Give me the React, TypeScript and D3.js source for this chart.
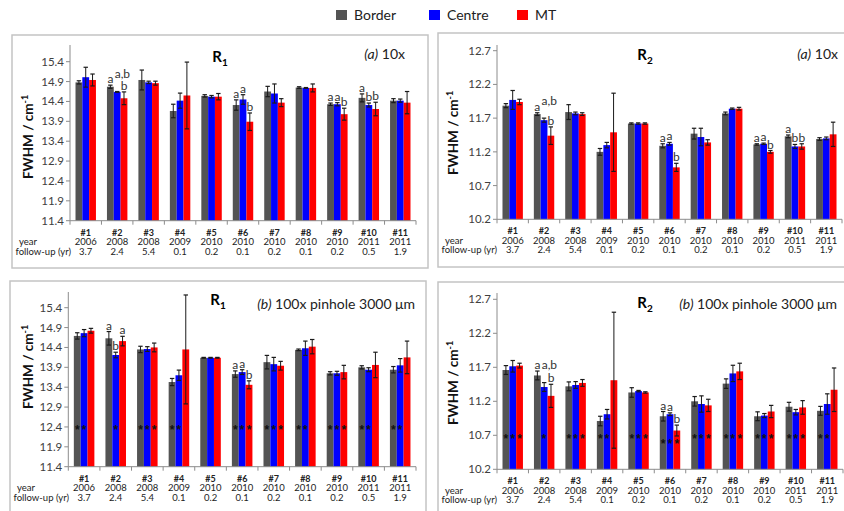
import * as d3 from "d3";

// categories and labels under the x axis
const categories = ["#1", "#2", "#3", "#4", "#5", "#6", "#7", "#8", "#9", "#10", "#11"];
const years = ["2006", "2008", "2008", "2009", "2010", "2010", "2010", "2010", "2010", "2011", "2011"];
const followUp = ["3.7", "2.4", "5.4", "0.1", "0.2", "0.1", "0.2", "0.1", "0.2", "0.5", "1.9"];
const seriesNames = ["Border", "Centre", "MT"];
const seriesColors = ["#545454", "#0000ff", "#ff0000"];

const r1Ticks = [11.4, 11.9, 12.4, 12.9, 13.4, 13.9, 14.4, 14.9, 15.4];
const r2Ticks = [10.2, 10.7, 11.2, 11.7, 12.2, 12.7];

// (a) 10x, R1
const r1aBorder = [14.88, 14.77, 14.94, 14.16, 14.54, 14.31, 14.65, 14.75, 14.33, 14.49, 14.42];
const r1aBorderErr = [0.04, 0.04, 0.25, 0.17, 0.03, 0.13, 0.13, 0.02, 0.03, 0.1, 0.05];
const r1aCentre = [15.01, 14.64, 14.88, 14.42, 14.52, 14.45, 14.6, 14.74, 14.33, 14.31, 14.42];
const r1aCentreErr = [0.25, 0.01, 0.03, 0.19, 0.03, 0.12, 0.24, 0.01, 0.04, 0.05, 0.04];
const r1aMT = [14.94, 14.48, 14.86, 14.55, 14.52, 13.89, 14.37, 14.74, 14.08, 14.21, 14.37];
const r1aMTErr = [0.15, 0.16, 0.05, 0.84, 0.08, 0.22, 0.1, 0.1, 0.15, 0.17, 0.28];

// (a) 10x, R2
const r2aBorder = [11.885, 11.76, 11.79, 11.2, 11.62, 11.29, 11.47, 11.77, 11.31, 11.43, 11.39];
const r2aBorderErr = [0.03, 0.02, 0.11, 0.05, 0.01, 0.03, 0.08, 0.02, 0.01, 0.02, 0.02];
const r2aCentre = [11.97, 11.67, 11.77, 11.3, 11.62, 11.32, 11.42, 11.84, 11.32, 11.28, 11.4];
const r2aCentreErr = [0.14, 0.03, 0.02, 0.04, 0.01, 0.02, 0.13, 0.01, 0.01, 0.03, 0.02];
const r2aMT = [11.94, 11.44, 11.76, 11.49, 11.62, 10.97, 11.34, 11.84, 11.2, 11.28, 11.46];
const r2aMTErr = [0.04, 0.13, 0.02, 0.58, 0.01, 0.06, 0.04, 0.02, 0.02, 0.04, 0.18];

// (b) 100x pinhole, R1
const r1bBorder = [14.69, 14.63, 14.35, 13.53, 14.14, 13.73, 14.03, 14.34, 13.75, 13.9, 13.84];
const r1bBorderErr = [0.08, 0.17, 0.08, 0.09, 0.01, 0.08, 0.17, 0.02, 0.04, 0.04, 0.08];
const r1bCentre = [14.76, 14.21, 14.36, 13.7, 14.14, 13.78, 13.98, 14.38, 13.75, 13.84, 13.95];
const r1bCentreErr = [0.09, 0.07, 0.06, 0.13, 0.01, 0.06, 0.17, 0.18, 0.05, 0.05, 0.17];
const r1bMT = [14.82, 14.56, 14.4, 14.35, 14.14, 13.46, 13.94, 14.42, 13.78, 13.96, 14.15];
const r1bMTErr = [0.06, 0.12, 0.11, 1.37, 0.01, 0.1, 0.11, 0.18, 0.17, 0.32, 0.41];

// (b) 100x pinhole, R2
const r2bBorder = [11.66, 11.58, 11.42, 10.91, 11.33, 10.98, 11.2, 11.46, 10.98, 11.12, 11.06];
const r2bBorderErr = [0.065, 0.065, 0.065, 0.07, 0.07, 0.07, 0.07, 0.07, 0.065, 0.065, 0.065];
const r2bCentre = [11.715, 11.41, 11.44, 11.01, 11.35, 11.01, 11.16, 11.61, 10.99, 11.04, 11.16];
const r2bCentreErr = [0.085, 0.065, 0.05, 0.07, 0.01, 0.02, 0.12, 0.12, 0.03, 0.04, 0.15];
const r2bMT = [11.725, 11.28, 11.47, 11.51, 11.33, 10.77, 11.14, 11.64, 11.05, 11.11, 11.37];
const r2bMTErr = [0.035, 0.17, 0.05, 1.0, 0.01, 0.08, 0.09, 0.12, 0.09, 0.1, 0.32];

// significance letters
const aBorderLetters = ["", "a", "", "", "", "a", "", "", "a", "a", ""];
const aCentreLetters = ["", "a,b", "", "", "", "a", "", "", "a", "b", ""];
const aMTLetters = ["", "b", "", "", "", "b", "", "", "b", "b", ""];
const r1bBorderLetters = ["", "a", "", "", "", "a", "", "", "", "", ""];
const r1bCentreLetters = ["", "b", "", "", "", "a", "", "", "", "", ""];
const r1bMTLetters = ["", "a", "", "", "", "b", "", "", "", "", ""];
const r2bBorderLetters = ["", "a", "", "", "", "a", "", "", "", "", ""];
const r2bCentreLetters = ["", "a,b", "", "", "", "a", "", "", "", "", ""];
const r2bMTLetters = ["", "b", "", "", "", "b", "", "", "", "", ""];

// asterisks (1 = shown) and the level they sit at
const r1bBorderStars = [1, 0, 1, 1, 0, 1, 1, 1, 1, 1, 1];
const r1bCentreStars = [1, 1, 1, 1, 0, 1, 1, 1, 1, 1, 1];
const r1bMTStars = [0, 0, 1, 0, 0, 1, 1, 0, 1, 0, 0];
const r1bStarLevel = [12.4, 12.4, 12.4, 12.4, 12.4, 12.4, 12.4, 12.4, 12.4, 12.4, 12.4];
const r2bBorderStars = [1, 0, 1, 1, 1, 1, 1, 1, 1, 1, 1];
const r2bCentreStars = [1, 1, 1, 1, 1, 1, 1, 1, 1, 1, 1];
const r2bMTStars = [1, 0, 1, 0, 1, 1, 1, 1, 1, 1, 0];
const r2bStarLevel = [10.69, 10.69, 10.69, 10.69, 10.69, 10.61, 10.69, 10.69, 10.69, 10.69, 10.69];

const FONT = "Lato, 'Open Sans', sans-serif";

const panels = [
    {
        key: "r1a", sub: "1", tag: "(a)", tagRest: " 10x",
        frame: [12, 35, 416, 233], xr: [70, 416], yd: [11.4, 15.4], yr: [220.7, 61.7], axisTop: 45,
        ticks: r1Ticks, values: [r1aBorder, r1aCentre, r1aMT], errs: [r1aBorderErr, r1aCentreErr, r1aMTErr],
        letters: [aBorderLetters, aCentreLetters, aMTLetters], stars: null, starLevel: null,
        titleX: 220, titleY: 62, tagX: 405, tagY: 59, labelX: 33, labelY: 137,
    },
    {
        key: "r2a", sub: "2", tag: "(a)", tagRest: " 10x",
        frame: [438, 33, 420, 234], xr: [497, 842], yd: [10.2, 12.7], yr: [219.3, 50.7], axisTop: 45,
        ticks: r2Ticks, values: [r2aBorder, r2aCentre, r2aMT], errs: [r2aBorderErr, r2aCentreErr, r2aMTErr],
        letters: [aBorderLetters, aCentreLetters, aMTLetters], stars: null, starLevel: null,
        titleX: 645, titleY: 60, tagX: 838, tagY: 59, labelX: 458, labelY: 133,
    },
    {
        key: "r1b", sub: "1", tag: "(b)", tagRest: " 100x pinhole 3000 \u03bcm",
        frame: [10, 281, 416, 240], xr: [68.3, 416], yd: [11.4, 15.4], yr: [466.7, 307.7], axisTop: 292,
        ticks: r1Ticks, values: [r1bBorder, r1bCentre, r1bMT], errs: [r1bBorderErr, r1bCentreErr, r1bMTErr],
        letters: [r1bBorderLetters, r1bCentreLetters, r1bMTLetters],
        stars: [r1bBorderStars, r1bCentreStars, r1bMTStars], starLevel: r1bStarLevel,
        titleX: 218, titleY: 305, tagX: 415, tagY: 309, labelX: 33, labelY: 367,
    },
    {
        key: "r2b", sub: "2", tag: "(b)", tagRest: " 100x pinhole 3000 \u03bcm",
        frame: [438, 282, 420, 240], xr: [497, 843], yd: [10.2, 12.7], yr: [469.3, 299.3], axisTop: 293,
        ticks: r2Ticks, values: [r2bBorder, r2bCentre, r2bMT], errs: [r2bBorderErr, r2bCentreErr, r2bMTErr],
        letters: [r2bBorderLetters, r2bCentreLetters, r2bMTLetters],
        stars: [r2bBorderStars, r2bCentreStars, r2bMTStars], starLevel: r2bStarLevel,
        titleX: 645, titleY: 308, tagX: 837, tagY: 309, labelX: 458, labelY: 383,
    },
];

function Panel({p}: {p: any}) {
    const x0 = d3.scaleBand().domain(categories).range(p.xr).paddingInner(0.35).paddingOuter(0.175);
    const x1 = d3.scaleBand().domain(seriesNames).range([0, x0.bandwidth()]);
    const y = d3.scaleLinear().domain(p.yd).range(p.yr);
    const base = p.yr[0];
    const step = x0.step();
    const bounds = categories.map(c => (x0(c) as number) - step * 0.175).concat([p.xr[1]]);
    const [fx, fy, fw, fh] = p.frame;

    return (
        <g>
            <rect x={fx} y={fy} width={fw} height={fh} fill="white" stroke="#c4c4c4" strokeWidth={1.5}/>
            {/* y axis */}
            <line x1={p.xr[0]} x2={p.xr[0]} y1={p.axisTop} y2={base} stroke="#8c8c8c"/>
            {p.ticks.map((t: number) =>
                <g key={t}>
                    <line x1={p.xr[0] - 4} x2={p.xr[0]} y1={y(t)} y2={y(t)} stroke="#8c8c8c"/>
                    <text x={p.xr[0] - 6} y={y(t) + 4} textAnchor="end" fontSize={11.5} fill="#404040"
                          fontFamily={FONT}>{t.toFixed(1)}</text>
                </g>
            )}
            {/* bars */}
            {categories.map((c, i) =>
                <g key={c}>
                    {seriesNames.map((s, k) => {
                        const v = p.values[k][i];
                        const e = p.errs[k][i];
                        const bx = (x0(c) as number) + (x1(s) as number);
                        const bw = x1.bandwidth();
                        const cx = bx + bw / 2;
                        const top = y(v + e);
                        const letter = p.letters[k][i];
                        const multi = letter.length > 1;
                        return (
                            <g key={s}>
                                <rect x={bx} y={y(v)} width={bw} height={base - y(v)} fill={seriesColors[k]}/>
                                <line x1={cx} x2={cx} y1={top} y2={y(v - e)} stroke="#1a1a1a" strokeWidth={1}/>
                                <line x1={cx - 2.2} x2={cx + 2.2} y1={top} y2={top} stroke="#1a1a1a" strokeWidth={1.2}/>
                                <line x1={cx - 2.2} x2={cx + 2.2} y1={y(v - e)} y2={y(v - e)} stroke="#1a1a1a" strokeWidth={1.2}/>
                                {letter &&
                                    <text x={multi ? cx - 2.5 : cx} y={top - 2 - (multi ? 11.5 : 0)}
                                          textAnchor={multi ? "start" : "middle"}
                                          fontSize={12} fill="#333" fontFamily={FONT}>{letter}</text>}
                                {p.stars && p.stars[k][i] === 1 &&
                                    <text x={cx} y={y(p.starLevel[i]) + 7} textAnchor="middle" fontSize={12}
                                          fontWeight="bold" fill="#111"
                                          fontFamily="'Liberation Sans', sans-serif">*</text>}
                            </g>
                        );
                    })}
                </g>
            )}
            {/* x axis */}
            <line x1={p.xr[0]} x2={p.xr[1]} y1={base} y2={base} stroke="#8c8c8c"/>
            {bounds.map((b, i) =>
                <line key={i} x1={b} x2={b} y1={base} y2={base + 4} stroke="#8c8c8c"/>
            )}
            {categories.map((c, i) => {
                const cx = (x0(c) as number) + x0.bandwidth() / 2;
                return (
                    <g key={c} fontFamily={FONT} textAnchor="middle" fill="#222">
                        <text x={cx} y={base + 15} fontSize={9} fontWeight="bold">{c}</text>
                        <text x={cx} y={base + 24.5} fontSize={9.5}>{years[i]}</text>
                        <text x={cx} y={base + 34} fontSize={9.5}>{followUp[i]}</text>
                    </g>
                );
            })}
            <text x={fx + 16} y={base + 24.5} fontSize={9.5} textAnchor="middle" fontFamily={FONT}
                  fill="#222">year</text>
            <text x={fx + 3.5} y={base + 34} fontSize={9.5} fontFamily={FONT} fill="#222">follow-up (yr)</text>
            {/* titles */}
            <text x={p.titleX} y={p.titleY} textAnchor="middle" fontSize={15} fontWeight="bold" fontFamily={FONT}>
                R<tspan fontSize={10} dy={4}>{p.sub}</tspan>
            </text>
            <text x={p.tagX} y={p.tagY} textAnchor="end" fontSize={14} fontFamily={FONT} fill="#222">
                <tspan fontStyle="italic">{p.tag}</tspan>{p.tagRest}
            </text>
            <text transform={`translate(${p.labelX},${p.labelY}) rotate(-90)`} textAnchor="middle" fontSize={13.5}
                  fontWeight="bold" fontFamily={FONT} fill="#111">
                FWHM / cm<tspan fontSize={9} dy={-5}>-1</tspan>
            </text>
        </g>
    );
}

export default function App() {
    const legendX = [336, 429, 517];
    return (
        <svg width={844} height={511} style={{position: "absolute", left: 0, top: 0, background: "white"}}>
            <rect width={844} height={511} fill="white"/>
            {seriesNames.map((s, k) =>
                <g key={s}>
                    <rect x={legendX[k]} y={10} width={11} height={10} fill={seriesColors[k]}/>
                    <text x={legendX[k] + 18} y={20} fontSize={14} fontFamily={FONT} fill="#222">{s}</text>
                </g>
            )}
            {panels.map(p => <Panel key={p.key} p={p}/>)}
        </svg>
    );
}
